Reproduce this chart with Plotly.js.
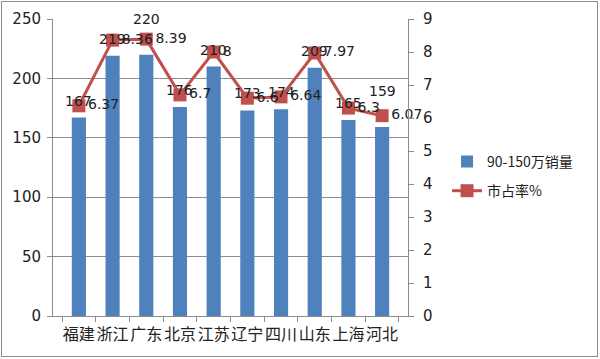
<!DOCTYPE html>
<html><head><meta charset="utf-8">
<script src="https://cdn.plot.ly/plotly-3.0.1.min.js"></script>
<style>
html,body{margin:0;padding:0;background:#fff;}
#wrap{position:relative;width:600px;height:359px;}
#chart{position:absolute;left:0;top:0;width:600px;height:359px;}
#frame{position:absolute;left:1px;top:1px;width:595px;height:354px;border:1px solid #8c8c8c;pointer-events:none;}
</style></head>
<body><div id="wrap"><div id="chart"></div><div id="frame"></div></div>
<script>
const categories = ['福建','浙江','广东','北京','江苏','辽宁','四川','山东','上海','河北'];
const sales = [167,219,220,176,210,173,174,209,165,159];
const share = [6.37,8.36,8.39,6.7,8,6.6,6.64,7.97,6.3,6.07];
const salesName = '90-150万销量';
const shareName = '市占率%';

const font = "DejaVu Sans, 'Noto Sans CJK SC', sans-serif";
const cjk = "'Noto Sans CJK SC', sans-serif";
// labels that sit higher in the reference (style only)
const raisedLabels = ['广东','河北'];

const traces = [
 {type:'bar', x:categories, y:sales, name:salesName, legendgroup:'a', marker:{color:'#4F81BD'}},
 {type:'scatter', mode:'lines+markers+text', x:categories, y:share, yaxis:'y2', name:shareName, legendgroup:'b',
  line:{color:'#C0504D',width:3}, marker:{symbol:'square',size:13,color:'#C0504D'},
  text:share.map(String), textposition:'middle right', cliponaxis:false,
  textfont:{family:font,size:14,color:'#222'}}
];
const barLabels = categories.map((c,i)=>({
 x:c, y:sales[i], xref:'x', yref:'y', text:String(sales[i]), showarrow:false,
 yanchor:'bottom', yshift: raisedLabels.includes(c) ? 26 : 7, font:{family:font,size:14,color:'#222'}
}));
const layout = {
 width:600, height:359,
 margin:{l:53,r:192,t:19,b:43},
 paper_bgcolor:'rgba(0,0,0,0)', plot_bgcolor:'#fff',
 bargap:0.58,
 showlegend:true,
 annotations:barLabels,
 legend:{x:1.11,xanchor:'left',y:0.47,yanchor:'middle',font:{family:cjk,size:14,color:'#222'},tracegroupgap:8,itemwidth:30},
 xaxis:{type:'category',tickangle:0,tickfont:{family:cjk,size:16,color:'#222'},showline:true,linecolor:'#8c8c8c',
  ticks:'outside',tickson:'boundaries',ticklen:5,tickcolor:'#8c8c8c',showgrid:false,ticklabelstandoff:4},
 yaxis:{range:[0,250],dtick:50,tickfont:{family:font,size:15,color:'#222'},showline:true,linecolor:'#8c8c8c',
  ticks:'outside',ticklen:5,tickcolor:'#8c8c8c',gridcolor:'#8c8c8c',gridwidth:1,zeroline:false,ticklabelstandoff:3},
 yaxis2:{range:[0,9],dtick:1,overlaying:'y',side:'right',tickfont:{family:font,size:15,color:'#222'},showline:true,linecolor:'#8c8c8c',
  ticks:'outside',ticklen:5,tickcolor:'#8c8c8c',showgrid:false,zeroline:false,ticklabelstandoff:6}
};
Plotly.newPlot('chart',traces,layout,{displayModeBar:false,staticPlot:true});
</script></body></html>
